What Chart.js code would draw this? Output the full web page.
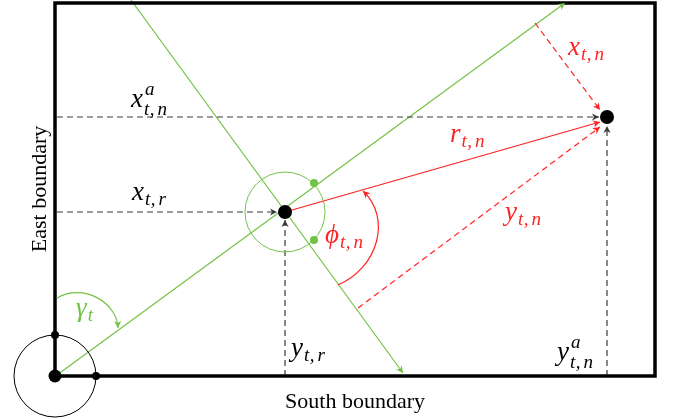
<!DOCTYPE html>
<html>
<head>
<meta charset="utf-8">
<script src="https://cdn.jsdelivr.net/npm/chart.js@4.4.1/dist/chart.umd.min.js"></script>
<style>
  html, body { margin: 0; padding: 0; background: #fff; }
  #wrap { width: 673px; height: 419px; position: relative; }
</style>
</head>
<body>
<div id="wrap"><canvas id="diagram"></canvas></div>
<script>
// field coordinates: origin at the south-east corner, 1 unit = 1 px
const boxCorners = [{x: 0, y: 0}, {x: 600, y: 0}, {x: 600, y: 373}, {x: 0, y: 373}, {x: 0, y: 0}];
const originPt = [{x: 0, y: 0}];
const robotPt = [{x: 230, y: 164}];
const targetPt = [{x: 552, y: 259}];
const originMarks = [{x: 0, y: 41}, {x: 41, y: 0}];
const robotMarks = [{x: 259, y: 193}, {x: 259, y: 136}];

const headingLine = [{x: 2, y: 1}, {x: 510, y: 373}];
const crossLine = [{x: 76, y: 376}, {x: 348, y: 3}];
const rangeLine = [{x: 230, y: 164}, {x: 545, y: 254}];
const xtnLine = [{x: 480, y: 353}, {x: 545, y: 266}];
const ytnLine = [{x: 303, y: 68}, {x: 545, y: 249}];
const xtrLine = [{x: 2, y: 164}, {x: 222, y: 164}];
const ytrLine = [{x: 230, y: 0}, {x: 230, y: 156}];
const xanLine = [{x: 2, y: 259}, {x: 544, y: 259}];
const yanLine = [{x: 552, y: 0}, {x: 552, y: 250}];

// bezier arcs (start, ctrl1, ctrl2, end)
const gammaArc = [{x: 2, y: 78}, {x: 28, y: 93}, {x: 62, y: 74}, {x: 63, y: 48}];
const phiArc = [{x: 283, y: 91}, {x: 323, y: 108}, {x: 337, y: 158}, {x: 308, y: 185}];

// math labels
const labelMain = ['x', 'x', 'r', 'x', 'y', 'ϕ', 'γ', 'y', 'y'];
const labelSub = ['t,n', 't,r', 't,n', 't,n', 't,n', 't,n', 't', 't,r', 't,n'];
const labelSup = ['a', '', '', '', '', '', '', '', 'a'];
const labelAt = [[76, 269], [77, 176], [395, 234], [513, 321], [450, 156], [270, 133], [21, 60], [236, 20], [502, 16]];

const GREEN = '#72c245';
const RED = '#ff2424';
const DASH = '#3a3a3a';
const labelColor = ['#000', '#000', RED, RED, RED, RED, GREEN, '#000', '#000'];
const SERIF = '"Liberation Serif", "Times New Roman", "DejaVu Serif", serif';

function lineSet(data, color, width, dash, arrow) {
    return {
        data: data, showLine: true, borderColor: color, borderWidth: width,
        borderDash: dash || [], pointRadius: 0, fill: false, clip: false,
        borderJoinStyle: 'miter', arrow: arrow, arrowColor: color
    };
}

function dotSet(data, color, r) {
    return { data: data, showLine: false, pointRadius: r, pointBackgroundColor: color, pointBorderColor: color, pointBorderWidth: 0, clip: false };
}

function ringSet(data, color, r) {
    return { data: data, showLine: false, pointRadius: r, pointBackgroundColor: 'rgba(0,0,0,0)', pointBorderColor: color, pointBorderWidth: 1, clip: false };
}

function toPx(chart, p) {
    return { x: chart.scales.x.getPixelForValue(p.x), y: chart.scales.y.getPixelForValue(p.y) };
}

function arrowHead(ctx, tip, from, color) {
    const a = Math.atan2(tip.y - from.y, tip.x - from.x);
    ctx.save();
    ctx.translate(tip.x, tip.y);
    ctx.rotate(a);
    ctx.beginPath();
    ctx.moveTo(0, 0);
    ctx.lineTo(-7, -3.6);
    ctx.lineTo(-5, 0);
    ctx.lineTo(-7, 3.6);
    ctx.closePath();
    ctx.fillStyle = color;
    ctx.fill();
    ctx.restore();
}

const diagramPlugin = {
    id: 'diagram',
    afterDatasetsDraw(chart) {
        const ctx = chart.ctx;
        // arrow heads on line datasets
        chart.data.datasets.forEach(ds => {
            if (!ds.arrow) return;
            const n = ds.data.length;
            arrowHead(ctx, toPx(chart, ds.data[n - 1]), toPx(chart, ds.data[n - 2]), ds.arrowColor);
        });
        // angle arcs
        [[gammaArc, GREEN], [phiArc, RED]].forEach(([arc, color]) => {
            const p = arc.map(q => toPx(chart, q));
            ctx.save();
            ctx.strokeStyle = color;
            ctx.lineWidth = 1.2;
            ctx.beginPath();
            ctx.moveTo(p[0].x, p[0].y);
            ctx.bezierCurveTo(p[1].x, p[1].y, p[2].x, p[2].y, p[3].x, p[3].y);
            ctx.stroke();
            ctx.restore();
            arrowHead(ctx, p[3], p[2], color);
        });
        // math labels
        labelMain.forEach((m, i) => {
            const at = toPx(chart, {x: labelAt[i][0], y: labelAt[i][1]});
            ctx.save();
            ctx.fillStyle = labelColor[i];
            ctx.textBaseline = 'alphabetic';
            ctx.textAlign = 'left';
            ctx.font = 'italic 27px ' + SERIF;
            ctx.fillText(m, at.x, at.y);
            const w = ctx.measureText(m).width;
            ctx.font = 'italic 19px ' + SERIF;
            if (labelSup[i]) ctx.fillText(labelSup[i], at.x + w + 2, at.y - 12);
            if (labelSub[i]) {
                const dy = labelSup[i] ? 8 : 5;
                let x = at.x + w + 1;
                labelSub[i].split('').forEach(ch => {
                    ctx.fillText(ch, x, at.y + dy);
                    x += ctx.measureText(ch).width + (ch === ',' ? 3 : 0.5);
                });
            }
            ctx.restore();
        });
        // boundary names
        ctx.save();
        ctx.fillStyle = '#000';
        ctx.font = '22px ' + SERIF;
        ctx.textAlign = 'center';
        ctx.textBaseline = 'alphabetic';
        const s = toPx(chart, {x: 300, y: -32});
        ctx.fillText('South boundary', s.x, s.y);
        const e = toPx(chart, {x: -9, y: 187});
        ctx.translate(e.x, e.y);
        ctx.rotate(-Math.PI / 2);
        ctx.fillText('East boundary', 0, 0);
        ctx.restore();
    }
};

new Chart(document.getElementById('diagram'), {
    type: 'scatter',
    data: {
        datasets: [
            dotSet(originPt, '#000', 6.5),
            dotSet(robotPt, '#000', 7),
            dotSet(targetPt, '#000', 7),
            dotSet(originMarks, '#000', 4),
            dotSet(robotMarks, GREEN, 4),
            lineSet(boxCorners, '#000', 3.5, null, false),
            ringSet(originPt, '#000', 41),
            ringSet(robotPt, GREEN, 40),
            lineSet(rangeLine, RED, 1.3, null, true),
            lineSet(xtnLine, RED, 1.2, [6, 4], true),
            lineSet(ytnLine, RED, 1.2, [6, 4], true),
            lineSet(xtrLine, DASH, 1.2, [6, 4], true),
            lineSet(ytrLine, DASH, 1.2, [6, 4], true),
            lineSet(xanLine, DASH, 1.2, [6, 4], true),
            lineSet(yanLine, DASH, 1.2, [6, 4], true),
            lineSet(headingLine, GREEN, 1.2, null, true),
            lineSet(crossLine, GREEN, 1.2, null, true)
        ]
    },
    options: {
        responsive: true,
        maintainAspectRatio: false,
        animation: false,
        events: [],
        layout: { padding: 0, autoPadding: false },
        plugins: { legend: { display: false }, tooltip: { enabled: false } },
        scales: {
            x: { type: 'linear', min: -55, max: 618, display: false },
            y: { type: 'linear', min: -43, max: 376, display: false }
        }
    },
    plugins: [diagramPlugin]
});
</script>
</body>
</html>
